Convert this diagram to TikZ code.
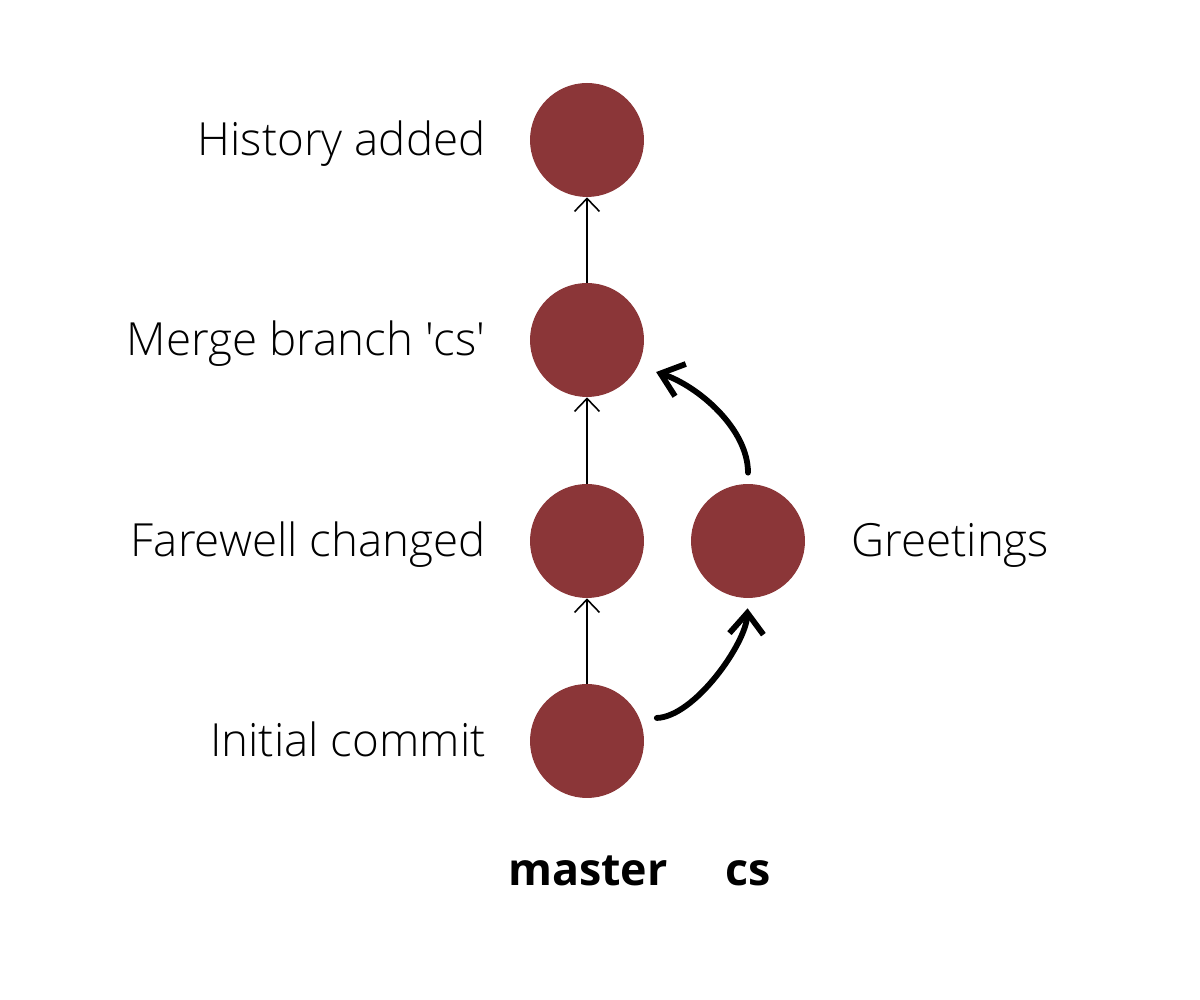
\documentclass[tikz,border=0pt]{standalone}
\usepackage{fontspec}
\setmainfont{Open Sans}[UprightFont=* Light,BoldFont=* Bold]
\usetikzlibrary{arrows.meta}
\definecolor{commitred}{RGB}{139,54,56}

\begin{document}
\begin{tikzpicture}[x=0.02cm,y=0.02cm,
		commit/.style={circle,fill=commitred,minimum size=2.28cm,inner sep=0pt},
		msg/.style={font=\fontsize{26}{31}\selectfont,inner sep=0pt},
		branchname/.style={font=\fontsize{25.5}{31}\selectfont\bfseries,inner sep=0pt,anchor=base},
		parent/.style={line width=0.9pt,-{Straight Barb[length=0.26cm,width=0.5cm]}},
		mergeline/.style={line width=3.3pt,line cap=round,-{Straight Barb[length=0.42cm,width=0.68cm]}}]
				\useasboundingbox (0,0) rectangle (1200,1000);

				\foreach \name/\y/\txt in {init/259/Initial commit, fare/459/Farewell changed, merge/660/Merge branch \textquotesingle cs\textquotesingle, hist/860/History added}{
						\node[commit] (\name) at (587,\y) {};
						\node[msg,anchor=base east] (l\name) at (486,{\y-16}) {\txt};
					}
				\node[commit] (greet) at (748,459) {};
				\node[msg,anchor=base west] (lgreet) at (851,443) {Greetings};

				\draw[parent] (init) -- (fare);
				\draw[parent] (fare) -- (merge);
				\draw[parent] (merge) -- (hist);

				\draw[mergeline,shorten <=0.34cm,shorten >=0.2cm] (init.23) .. controls +(55,2) and +(-2,-45) .. (greet.-90);
				\draw[mergeline,shorten <=0.22cm,shorten >=0.38cm] (greet.90) .. controls +(0,55) and +(60,-20) .. (merge.-27);

				\node[branchname] (master) at (588,114) {master};
				\node[branchname] (cs) at (748,114) {cs};
			\end{tikzpicture}
\end{document}
